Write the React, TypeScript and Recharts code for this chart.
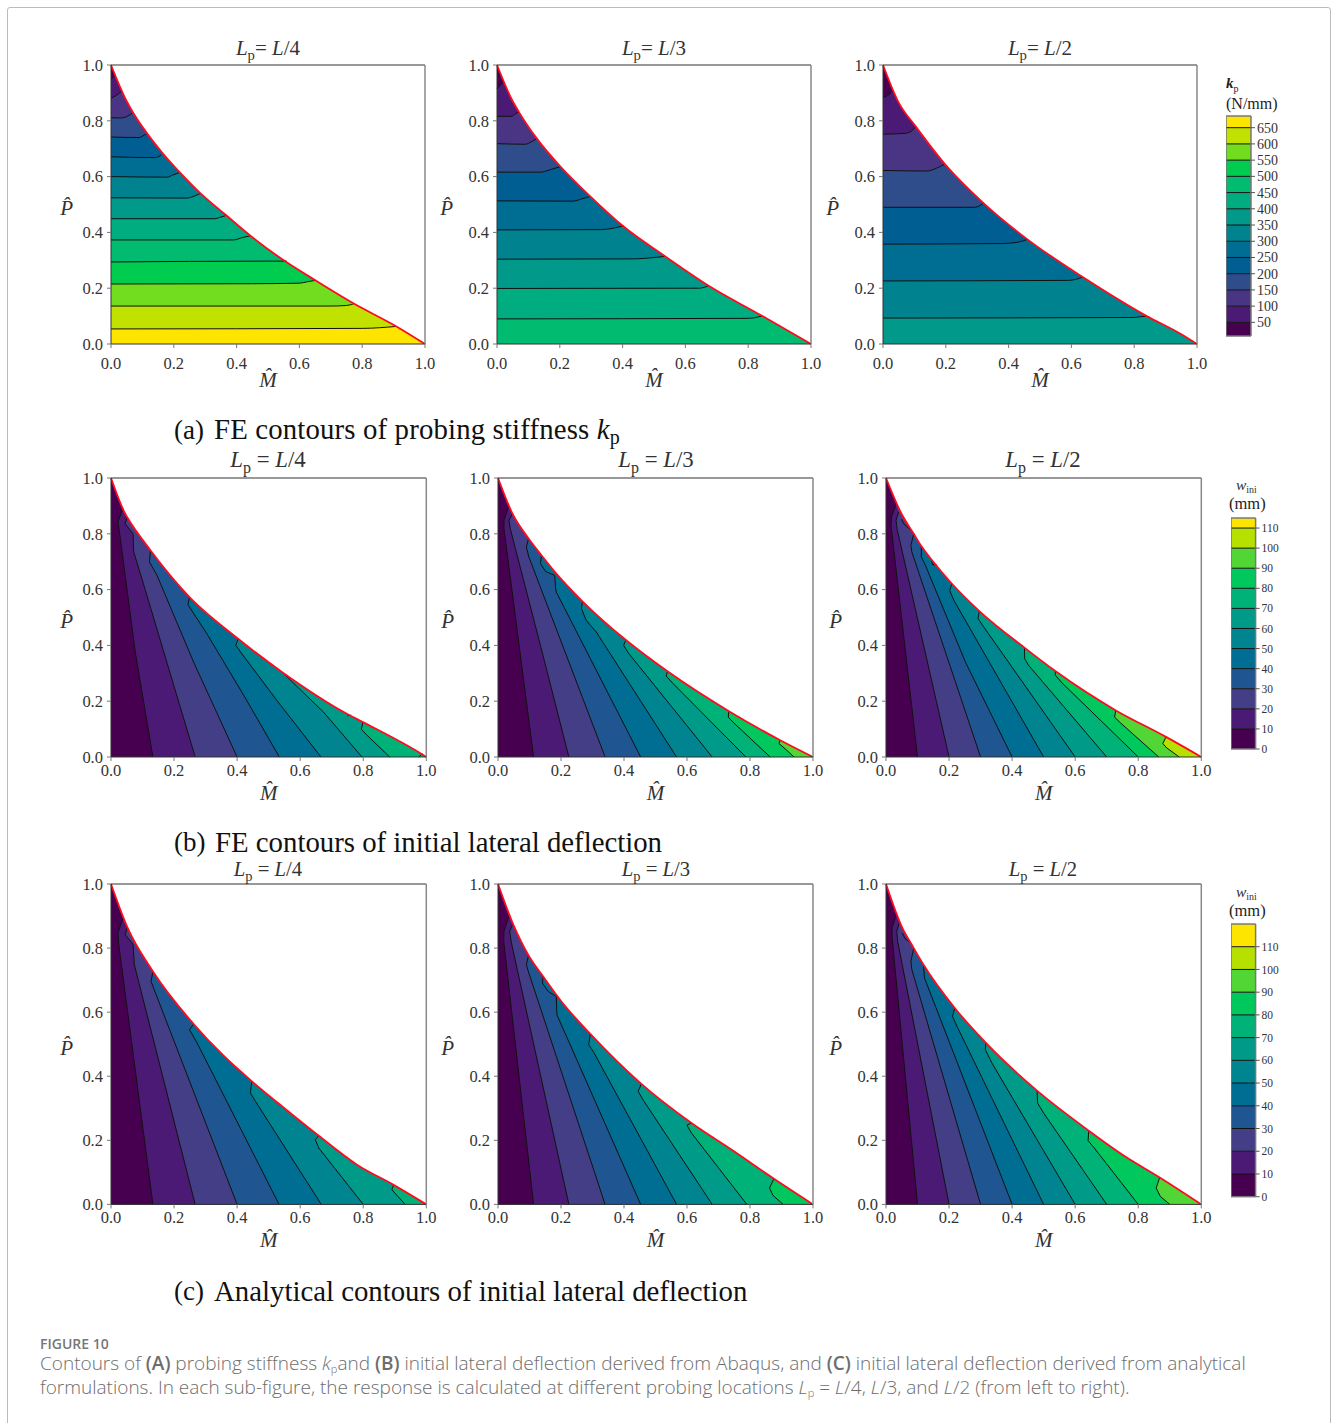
import React from 'react';
import { Area, ComposedChart, Line, ReferenceLine, XAxis, YAxis } from 'recharts';

type Pt = number[];

const stiffnessColors = ['#470050', '#4b1a74', '#4a3585', '#2f4d8a', '#005e93', '#006e92', '#00838f', '#00998a', '#00ad80', '#00bb70', '#00cc50', '#72dc1e', '#c1e200', '#fde500'];
const deflectionColors = ['#470050', '#4b1a74', '#433e85', '#1f5590', '#006e92', '#00848f', '#009a88', '#00b278', '#00c85c', '#52d636', '#b5e000', '#fde500'];

const stiffnessLevels = [8, 50, 100, 150, 200, 250, 300, 350, 400, 450, 500, 550, 600, 650, 686];
const deflectionLevelsB = [0, 10, 20, 30, 40, 50, 60, 70, 80, 90, 100, 110, 115];
const deflectionLevelsC = [0, 10, 20, 30, 40, 50, 60, 70, 80, 90, 100, 110, 120];

const axisTicks = [0, 0.2, 0.4, 0.6, 0.8, 1];

// red limit curves, [M, P]
const boundaryA1: Pt[] = [[0, 1], [0.05, 0.87], [0.07, 0.83], [0.104, 0.772], [0.162, 0.687], [0.219, 0.615], [0.285, 0.54], [0.364, 0.464], [0.444, 0.388], [0.55, 0.3], [0.651, 0.228], [0.773, 0.145], [0.909, 0.063], [1, 0]];
const boundaryA2: Pt[] = [[0, 1], [0.05, 0.87], [0.069, 0.833], [0.127, 0.736], [0.202, 0.636], [0.297, 0.529], [0.403, 0.421], [0.536, 0.314], [0.674, 0.209], [0.844, 0.101], [1, 0]];
const boundaryA3: Pt[] = [[0, 1], [0.05, 0.865], [0.104, 0.78], [0.197, 0.645], [0.32, 0.505], [0.46, 0.375], [0.636, 0.24], [0.72, 0.18], [0.84, 0.1], [0.95, 0.035], [1, 0]];
const boundaryB1: Pt[] = [[0, 1], [0.045, 0.872], [0.051, 0.86], [0.125, 0.741], [0.249, 0.573], [0.403, 0.424], [0.542, 0.305], [0.748, 0.155], [0.799, 0.125], [0.986, 0.01], [1, 0]];
const boundaryB2: Pt[] = [[0, 1], [0.046, 0.872], [0.097, 0.783], [0.138, 0.723], [0.183, 0.66], [0.268, 0.558], [0.405, 0.42], [0.538, 0.307], [0.733, 0.164], [0.896, 0.06], [1, 0]];
const boundaryB3: Pt[] = [[0, 1], [0.05, 0.87], [0.088, 0.8], [0.112, 0.756], [0.146, 0.705], [0.209, 0.621], [0.296, 0.523], [0.439, 0.392], [0.537, 0.308], [0.729, 0.167], [0.888, 0.072], [1, 0]];
const boundaryC1: Pt[] = [[0, 1], [0.051, 0.867], [0.133, 0.727], [0.262, 0.563], [0.357, 0.464], [0.447, 0.384], [0.55, 0.3], [0.659, 0.214], [0.78, 0.124], [0.896, 0.061], [1, 0]];
const boundaryC2: Pt[] = [[0, 1], [0.05, 0.87], [0.097, 0.777], [0.143, 0.712], [0.2, 0.635], [0.293, 0.532], [0.455, 0.376], [0.614, 0.254], [0.75, 0.165], [0.876, 0.08], [1, 0]];
const boundaryC3: Pt[] = [[0, 1], [0.05, 0.867], [0.088, 0.8], [0.119, 0.748], [0.218, 0.613], [0.317, 0.504], [0.479, 0.355], [0.643, 0.23], [0.75, 0.155], [0.868, 0.084], [1, 0]];

// contour lines, lowest level first
const contoursA1: Pt[][] = [
  [[0, 0.95], [0.01, 0.96], [0.012, 0.968]],
  [[0, 0.88], [0.015, 0.89], [0.033, 0.905]],
  [[0, 0.811], [0.03, 0.81], [0.05, 0.815], [0.07, 0.83]],
  [[0, 0.742], [0.09, 0.74], [0.1, 0.745], [0.115, 0.755]],
  [[0, 0.671], [0.14, 0.668], [0.16, 0.677]],
  [[0, 0.6], [0.18, 0.598], [0.195, 0.605], [0.22, 0.615]],
  [[0, 0.524], [0.24, 0.523], [0.265, 0.53], [0.285, 0.54]],
  [[0, 0.449], [0.33, 0.449], [0.35, 0.455], [0.365, 0.46]],
  [[0, 0.373], [0.39, 0.373], [0.42, 0.382], [0.445, 0.388]],
  [[0, 0.294], [0.5, 0.297], [0.56, 0.297]],
  [[0, 0.215], [0.45, 0.216], [0.6, 0.218], [0.625, 0.223], [0.651, 0.228]],
  [[0, 0.136], [0.7, 0.136], [0.75, 0.138], [0.775, 0.145]],
  [[0, 0.054], [0.8, 0.056], [0.909, 0.063]],
];
const contoursA2: Pt[][] = [
  [[0, 0.915], [0.012, 0.93], [0.02, 0.94]],
  [[0, 0.816], [0.045, 0.816], [0.06, 0.825], [0.069, 0.833]],
  [[0, 0.718], [0.09, 0.716], [0.11, 0.725], [0.127, 0.736]],
  [[0, 0.616], [0.14, 0.616], [0.17, 0.625], [0.202, 0.636]],
  [[0, 0.513], [0.24, 0.512], [0.27, 0.52], [0.297, 0.529]],
  [[0, 0.409], [0.33, 0.41], [0.37, 0.415], [0.403, 0.424]],
  [[0, 0.304], [0.44, 0.305], [0.5, 0.31], [0.536, 0.314]],
  [[0, 0.199], [0.64, 0.2], [0.66, 0.203], [0.674, 0.209]],
  [[0, 0.09], [0.8, 0.092], [0.82, 0.094], [0.844, 0.101]],
];
const contoursA3: Pt[][] = [
  [[0, 0.883], [0.02, 0.895], [0.032, 0.91]],
  [[0, 0.752], [0.07, 0.755], [0.09, 0.762], [0.104, 0.78]],
  [[0, 0.622], [0.14, 0.62], [0.17, 0.63], [0.197, 0.645]],
  [[0, 0.49], [0.29, 0.49], [0.31, 0.497], [0.32, 0.505]],
  [[0, 0.358], [0.38, 0.36], [0.43, 0.365], [0.46, 0.375]],
  [[0, 0.226], [0.59, 0.228], [0.615, 0.232], [0.636, 0.24]],
  [[0, 0.093], [0.8, 0.095], [0.82, 0.098], [0.84, 0.1]],
];
const contoursB1: Pt[][] = [
  [[0.038, 0.892], [0.022, 0.842], [0.027, 0.806], [0.077, 0.376], [0.133, 0]],
  [[0.051, 0.86], [0.045, 0.836], [0.07, 0.8], [0.072, 0.735], [0.098, 0.639], [0.199, 0.257], [0.267, 0]],
  [[0.125, 0.741], [0.122, 0.699], [0.146, 0.651], [0.262, 0.34], [0.4, 0]],
  [[0.249, 0.573], [0.244, 0.546], [0.304, 0.442], [0.421, 0.221], [0.534, 0]],
  [[0.403, 0.424], [0.396, 0.4], [0.415, 0.37], [0.526, 0.203], [0.666, 0]],
  [[0.542, 0.305], [0.674, 0.161], [0.796, 0]],
  [[0.799, 0.125], [0.794, 0.099], [0.812, 0.078], [0.884, 0]],
  [[0.988, 0.012], [0.976, 0]],
];
const contoursB2: Pt[][] = [
  [[0.034, 0.9], [0.019, 0.848], [0.019, 0.818], [0.113, 0]],
  [[0.046, 0.872], [0.035, 0.848], [0.039, 0.818], [0.132, 0.412], [0.225, 0]],
  [[0.097, 0.783], [0.09, 0.753], [0.098, 0.717], [0.34, 0]],
  [[0.138, 0.723], [0.135, 0.693], [0.151, 0.665], [0.18, 0.651], [0.183, 0.603], [0.185, 0.591], [0.453, 0]],
  [[0.268, 0.558], [0.265, 0.532], [0.28, 0.49], [0.312, 0.448], [0.567, 0]],
  [[0.405, 0.418], [0.399, 0.4], [0.413, 0.374], [0.68, 0]],
  [[0.538, 0.307], [0.534, 0.29], [0.556, 0.263], [0.787, 0]],
  [[0.733, 0.164], [0.731, 0.143], [0.746, 0.125], [0.864, 0]],
  [[0.896, 0.06], [0.892, 0.048], [0.905, 0.036], [0.94, 0]],
];
const contoursB3: Pt[][] = [
  [[0.033, 0.908], [0.017, 0.86], [0.016, 0.83], [0.1, 0]],
  [[0.04, 0.878], [0.032, 0.848], [0.035, 0.818], [0.2, 0]],
  [[0.088, 0.8], [0.079, 0.759], [0.082, 0.735], [0.3, 0]],
  [[0.112, 0.755], [0.112, 0.717], [0.125, 0.687], [0.252, 0.34], [0.4, 0]],
  [[0.209, 0.621], [0.202, 0.597], [0.215, 0.562], [0.5, 0]],
  [[0.296, 0.523], [0.292, 0.496], [0.31, 0.466], [0.6, 0]],
  [[0.439, 0.392], [0.44, 0.352], [0.452, 0.329], [0.7, 0]],
  [[0.537, 0.308], [0.537, 0.293], [0.558, 0.266], [0.8, 0]],
  [[0.729, 0.167], [0.725, 0.143], [0.743, 0.123], [0.865, 0]],
  [[0.888, 0.072], [0.878, 0.048], [0.891, 0.032], [0.93, 0]],
];
const contoursC1: Pt[][] = [
  [[0.038, 0.894], [0.022, 0.847], [0.024, 0.816], [0.133, 0]],
  [[0.051, 0.863], [0.045, 0.842], [0.07, 0.811], [0.074, 0.748], [0.267, 0]],
  [[0.133, 0.727], [0.127, 0.696], [0.141, 0.66], [0.4, 0]],
  [[0.262, 0.563], [0.249, 0.545], [0.273, 0.504], [0.533, 0]],
  [[0.447, 0.384], [0.442, 0.348], [0.458, 0.322], [0.667, 0]],
  [[0.659, 0.214], [0.648, 0.202], [0.659, 0.176], [0.8, 0]],
  [[0.896, 0.061], [0.891, 0.046], [0.905, 0.03], [0.933, 0]],
];
const contoursC2: Pt[][] = [
  [[0.034, 0.899], [0.019, 0.852], [0.018, 0.821], [0.113, 0]],
  [[0.046, 0.873], [0.037, 0.852], [0.042, 0.819], [0.225, 0]],
  [[0.097, 0.777], [0.09, 0.748], [0.098, 0.722], [0.34, 0]],
  [[0.143, 0.712], [0.141, 0.691], [0.159, 0.665], [0.185, 0.649], [0.187, 0.592], [0.453, 0]],
  [[0.293, 0.532], [0.288, 0.498], [0.302, 0.478], [0.567, 0]],
  [[0.455, 0.376], [0.445, 0.353], [0.46, 0.327], [0.68, 0]],
  [[0.614, 0.254], [0.6, 0.247], [0.614, 0.223], [0.79, 0]],
  [[0.876, 0.08], [0.862, 0.051], [0.873, 0.028], [0.905, 0]],
];
const contoursC3: Pt[][] = [
  [[0.033, 0.906], [0.019, 0.863], [0.019, 0.837], [0.1, 0]],
  [[0.042, 0.878], [0.034, 0.852], [0.037, 0.821], [0.2, 0]],
  [[0.088, 0.8], [0.079, 0.759], [0.082, 0.733], [0.3, 0]],
  [[0.119, 0.748], [0.122, 0.707], [0.4, 0]],
  [[0.218, 0.613], [0.211, 0.587], [0.225, 0.556], [0.5, 0]],
  [[0.317, 0.504], [0.315, 0.483], [0.336, 0.441], [0.6, 0]],
  [[0.479, 0.355], [0.481, 0.316], [0.5, 0.285], [0.7, 0]],
  [[0.643, 0.23], [0.641, 0.199], [0.659, 0.178], [0.8, 0]],
  [[0.868, 0.084], [0.857, 0.051], [0.87, 0.025], [0.9, 0]],
];

// short contour pieces that close on the limit curve
const islandsB1: Pt[][] = [[[0.75, 0.148], [0.762, 0.15]]];
const islandsB3: Pt[][] = [[[0.049, 0.852], [0.056, 0.836], [0.08, 0.812]], [[0.145, 0.705], [0.147, 0.69], [0.162, 0.688]]];
const islandsC3: Pt[][] = [[[0.051, 0.847], [0.06, 0.83], [0.08, 0.815]]];

const SERIF = '"Liberation Serif", serif';
const MARGIN_LEFT = 60;
const MARGIN_TOP = 30;
const MARGIN_RIGHT = 30;
const MARGIN_BOTTOM = 25;
const AXIS_HEIGHT = 30;

const toPoints = (pairs: Pt[]) => pairs.map(([m, p]) => ({ m, p }));

// region under one contour: limit curve up to where it starts, the contour, then the limit curve again
const regionUnder = (line: Pt[], boundary: Pt[]) => {
  const first = line[0];
  const last = line[line.length - 1];
  const head = boundary.filter((b) => b[0] < first[0]);
  const tail = last[1] > 0 ? boundary.filter((b) => b[0] > last[0]) : [];
  return toPoints([...head, ...line, ...tail]);
};

const AxisTick = ({ x, y, payload, textAnchor, fontSize, dy, digits }: any) => (
  <text x={x} y={y} dy={dy} textAnchor={textAnchor} fill="#333" style={{ fontFamily: SERIF, fontSize }}>
    {Number(payload.value).toFixed(digits)}
  </text>
);

type PanelProps = {
  left: number;
  top: number;
  width: number;
  height: number;
  boundary: Pt[];
  contours: Pt[][];
  islands?: Pt[][];
  colors: string[];
  highBelow?: boolean;
  firstCol?: boolean;
  xTickGap: number;
};

const ContourPanel = ({ left, top, width, height, boundary, contours, islands = [], colors, highBelow, firstCol, xTickGap }: PanelProps) => {
  const layers = highBelow
    ? contours.map((line, k) => ({ line, fill: colors[k + 1] }))
    : contours.map((line, k) => ({ line, fill: colors[k] })).reverse();
  const baseFill = highBelow ? colors[0] : colors[contours.length];
  const outside = boundary.map(([m, p]) => ({ m, band: [p, 1] }));
  return (
    <div style={{ position: 'absolute', left: left - MARGIN_LEFT, top: top - MARGIN_TOP }}>
      <ComposedChart
        width={width + MARGIN_LEFT + MARGIN_RIGHT}
        height={height + MARGIN_TOP + MARGIN_BOTTOM + AXIS_HEIGHT}
        margin={{ top: MARGIN_TOP, right: MARGIN_RIGHT, bottom: MARGIN_BOTTOM, left: 0 }}
      >
        <XAxis
          type="number"
          dataKey="m"
          domain={[0, 1]}
          ticks={axisTicks}
          interval={0}
          height={AXIS_HEIGHT}
          tickSize={4}
          tickMargin={xTickGap}
          stroke="#333"
          tick={(t: any) => <AxisTick {...t} fontSize={16.5} dy="0.71em" digits={1} />}
          tickLine={{ stroke: '#777' }}
          label={{ value: 'M\u0302', position: 'bottom', offset: -2, style: { fontFamily: SERIF, fontStyle: 'italic', fontSize: 21, fill: '#333' } }}
        />
        <YAxis
          type="number"
          domain={[0, 1]}
          ticks={axisTicks}
          interval={0}
          width={MARGIN_LEFT}
          tickSize={4}
          tickMargin={4}
          stroke="#333"
          tick={(t: any) => <AxisTick {...t} fontSize={16.5} dy="0.355em" digits={1} />}
          tickLine={{ stroke: '#777' }}
          label={{ value: 'P\u0302', position: 'left', offset: firstCol ? -22 : -16, dy: 3, style: { fontFamily: SERIF, fontStyle: 'italic', fontSize: 21, fill: '#333' } }}
        />
        <Area data={toPoints(boundary)} dataKey="p" type="monotone" fill={baseFill} fillOpacity={1} stroke="none" isAnimationActive={false} />
        {layers.map(({ line, fill }, i) => (
          <Area key={i} data={regionUnder(line, boundary)} dataKey="p" type="linear" fill={fill} fillOpacity={1} stroke="none" isAnimationActive={false} />
        ))}
        <Area data={outside} dataKey="band" type="monotone" fill="#fff" fillOpacity={1} stroke="none" isAnimationActive={false} />
        {[...contours, ...islands].map((line, i) => (
          <Line key={i} data={toPoints(line)} dataKey="p" type={highBelow ? 'monotone' : 'linear'} stroke="#111" strokeWidth={1} dot={false} isAnimationActive={false} />
        ))}
        <Line data={toPoints(boundary)} dataKey="p" type="monotone" stroke="#ff0a1e" strokeWidth={1.8} dot={false} isAnimationActive={false} />
        <ReferenceLine y={1} stroke="#333" strokeWidth={1.2} ifOverflow="visible" />
        <ReferenceLine x={1} stroke="#888" strokeWidth={1.5} ifOverflow="visible" />
      </ComposedChart>
    </div>
  );
};

type BarProps = {
  left: number;
  top: number;
  width: number;
  height: number;
  levels: number[];
  colors: string[];
  fontSize: number;
};

const ColorBar = ({ left, top, width, height, levels, colors, fontSize }: BarProps) => {
  const inner = levels.slice(1, -1);
  const tickValues = levels[0] === 0 ? levels.slice(0, -1) : inner;
  return (
    <div style={{ position: 'absolute', left, top: top - 10 }}>
      <ComposedChart width={width + 40} height={height + 20} margin={{ top: 10, right: 0, bottom: 10, left: 0 }}>
        <XAxis type="number" dataKey="x" domain={[0, 1]} hide />
        <YAxis
          type="number"
          orientation="right"
          domain={[levels[0], levels[levels.length - 1]]}
          ticks={tickValues}
          interval={0}
          width={40}
          tickSize={4}
          tickMargin={2}
          axisLine={false}
          tick={(t: any) => <AxisTick {...t} fontSize={fontSize} dy="0.355em" digits={0} />}
          tickLine={{ stroke: '#555' }}
        />
        {colors.map((color, i) => (
          <Area
            key={color}
            data={[{ x: 0, band: [levels[i], levels[i + 1]] }, { x: 1, band: [levels[i], levels[i + 1]] }]}
            dataKey="band"
            type="linear"
            fill={color}
            fillOpacity={1}
            stroke="none"
            isAnimationActive={false}
          />
        ))}
        {inner.map((level) => (
          <ReferenceLine key={level} y={level} stroke="#111" strokeWidth={1} />
        ))}
        <ReferenceLine x={0} stroke="#777" strokeWidth={1.5} ifOverflow="visible" />
        <ReferenceLine x={1} stroke="#777" strokeWidth={1.5} ifOverflow="visible" />
        <ReferenceLine y={levels[0]} stroke="#777" strokeWidth={1.5} ifOverflow="visible" />
        <ReferenceLine y={levels[levels.length - 1]} stroke="#777" strokeWidth={1.5} ifOverflow="visible" />
      </ComposedChart>
    </div>
  );
};

const Title = ({ cx, y, size, tight, label }: { cx: number; y: number; size: number; tight?: boolean; label: string }) => (
  <div style={{ position: 'absolute', left: cx - 100, top: y, width: 200, textAlign: 'center', fontFamily: SERIF, fontSize: size, color: '#333', whiteSpace: 'nowrap', lineHeight: 1 }}>
    <i>L</i>
    <sub style={{ fontSize: size * 0.7, lineHeight: 0 }}>p</sub>
    {tight ? '= ' : ' = '}
    <i>L</i>/{label}
  </div>
);

const Place = ({ x, y, size, children, color = '#111', family = SERIF, extra }: any) => (
  <div style={{ position: 'absolute', left: x, top: y, fontFamily: family, fontSize: size, color, whiteSpace: 'nowrap', lineHeight: 1, ...extra }}>{children}</div>
);

const WiniHead = ({ cx, y }: { cx: number; y: number }) => (
  <>
    <Place x={cx - 12} y={y} size={15.5} color="#333"><i>w</i><span style={{ fontSize: 10, position: 'relative', top: 3 }}>ini</span></Place>
    <Place x={cx - 19} y={y + 19} size={16.5} color="#222">(mm)</Place>
  </>
);

const CAPTION_FONT = '"Open Sans", sans-serif';
const CAPTION_STYLE = { fontWeight: 300, letterSpacing: 0 };
const SUB_STYLE = { fontSize: 11, lineHeight: 0, verticalAlign: '-3px' };

const App = () => (
  <div style={{ position: 'absolute', left: 0, top: 0, width: 1331, height: 1423, overflow: 'hidden', background: '#fff' }}>
    <div style={{ position: 'absolute', left: 7, top: 7, width: 1322, height: 1500, border: '1.5px solid #bbb', borderRadius: 3 }} />

    <ContourPanel left={110.7} top={65.3} width={314} height={279} boundary={boundaryA1} contours={contoursA1} colors={stiffnessColors} highBelow firstCol xTickGap={9} />
    <ContourPanel left={496.7} top={65.3} width={314} height={279} boundary={boundaryA2} contours={contoursA2} colors={stiffnessColors} highBelow xTickGap={9} />
    <ContourPanel left={882.7} top={65.3} width={314} height={279} boundary={boundaryA3} contours={contoursA3} colors={stiffnessColors} highBelow xTickGap={9} />
    <ContourPanel left={110.7} top={477.7} width={315.3} height={279} boundary={boundaryB1} contours={contoursB1} islands={islandsB1} colors={deflectionColors} firstCol xTickGap={3} />
    <ContourPanel left={498.3} top={477.7} width={315} height={279} boundary={boundaryB2} contours={contoursB2} colors={deflectionColors} xTickGap={3} />
    <ContourPanel left={885.7} top={477.7} width={315.3} height={279} boundary={boundaryB3} contours={contoursB3} islands={islandsB3} colors={deflectionColors} xTickGap={3} />
    <ContourPanel left={110.7} top={884.3} width={315.3} height={320.4} boundary={boundaryC1} contours={contoursC1} colors={deflectionColors} firstCol xTickGap={3} />
    <ContourPanel left={498.3} top={884.3} width={315} height={320.4} boundary={boundaryC2} contours={contoursC2} colors={deflectionColors} xTickGap={3} />
    <ContourPanel left={885.7} top={884.3} width={315.3} height={320.4} boundary={boundaryC3} contours={contoursC3} islands={islandsC3} colors={deflectionColors} xTickGap={3} />

    <ColorBar left={1226.3} top={116} width={25} height={220} levels={stiffnessLevels} colors={stiffnessColors} fontSize={14} />
    <ColorBar left={1230.7} top={517.7} width={24.6} height={231} levels={deflectionLevelsB} colors={deflectionColors} fontSize={11.5} />
    <ColorBar left={1230.7} top={924.3} width={24.6} height={272.7} levels={deflectionLevelsC} colors={deflectionColors} fontSize={11.5} />

    <Title cx={268} y={38} size={21} tight label="4" />
    <Title cx={654} y={38} size={21} tight label="3" />
    <Title cx={1040} y={38} size={21} tight label="2" />
    <Title cx={268} y={449} size={22.8} label="4" />
    <Title cx={656} y={449} size={22.8} label="3" />
    <Title cx={1043} y={449} size={22.8} label="2" />
    <Title cx={268} y={859} size={20.7} label="4" />
    <Title cx={656} y={859} size={20.7} label="3" />
    <Title cx={1043} y={859} size={20.7} label="2" />

    <Place x={1226} y={76} size={15} color="#222"><i><b>k</b></i><sub style={{ fontSize: 10, lineHeight: 0 }}>p</sub></Place>
    <Place x={1226} y={96} size={16} color="#222" extra={{ fontWeight: 500 }}>(N/mm)</Place>
    <WiniHead cx={1248} y={477} />
    <WiniHead cx={1248} y={884} />

    <Place x={174} y={417} size={27}>(a)</Place>
    <Place x={214} y={415} size={28.8} extra={{ letterSpacing: 0.15 }}>FE contours of probing stiffness <i>k</i><span style={{ fontSize: 20, position: 'relative', top: 5 }}>p</span></Place>
    <Place x={174} y={829} size={27}>(b)</Place>
    <Place x={215} y={828} size={28.8}>FE contours of initial lateral deflection</Place>
    <Place x={174} y={1278} size={27}>(c)</Place>
    <Place x={214} y={1277} size={28.8}>Analytical contours of initial lateral deflection</Place>

    <Place x={40} y={1337} size={14} color="#777" family={CAPTION_FONT} extra={{ fontWeight: 600 }}>FIGURE 10</Place>
    <Place x={40} y={1354} size={19} color="#6d6d6d" family={CAPTION_FONT} extra={CAPTION_STYLE}>
      Contours of <b style={{ fontWeight: 600 }}>(A)</b> probing stiffness <i>k</i><sub style={SUB_STYLE}>p</sub>and <b style={{ fontWeight: 600 }}>(B)</b> initial lateral deflection derived from Abaqus, and <b style={{ fontWeight: 600 }}>(C)</b> initial lateral deflection derived from analytical
    </Place>
    <Place x={40} y={1378} size={19} color="#6d6d6d" family={CAPTION_FONT} extra={CAPTION_STYLE}>
      formulations. In each sub-figure, the response is calculated at different probing locations <i>L</i><sub style={SUB_STYLE}>p</sub> = <i>L</i>/4, <i>L</i>/3, and <i>L</i>/2 (from left to right).
    </Place>
  </div>
);

export default App;
